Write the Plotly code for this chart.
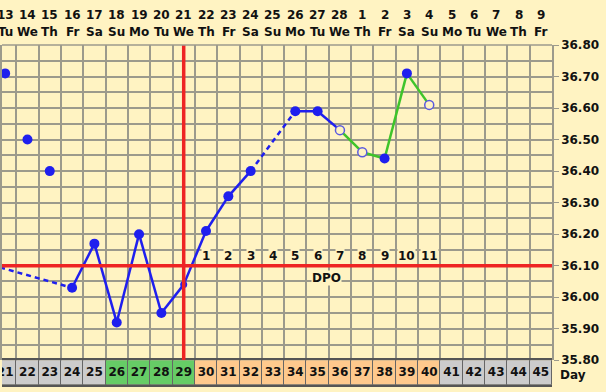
import plotly.graph_objects as go

# ---- data ----
cycle_days = list(range(20, 41))
temps = [36.11, 36.71, 36.50, 36.40, 36.03, 36.17, 35.92, 36.20, 35.95, 36.04,
         36.21, 36.32, 36.40, None, 36.59, 36.59, 36.53, 36.46, 36.44, 36.71, 36.61]
discarded_days = [21, 22, 23]
open_days = [36, 37, 40]
small_days = [29]
green_from = 36
coverline = 36.10
ovulation_day = 29

row_days = list(range(21, 46))
dates = ["13", "14", "15", "16", "17", "18", "19", "20", "21", "22", "23", "24", "25",
         "26", "27", "28", "1", "2", "3", "4", "5", "6", "7", "8", "9"]
weekdays = ["Tu", "We", "Th", "Fr", "Sa", "Su", "Mo", "Tu", "We", "Th", "Fr", "Sa", "Su",
            "Mo", "Tu", "We", "Th", "Fr", "Sa", "Su", "Mo", "Tu", "We", "Th", "Fr"]
phase = ["gray"] * 5 + ["green"] * 4 + ["orange"] * 11 + ["gray"] * 5
dpo_days = list(range(30, 41))
dpo_labels = [str(i) for i in range(1, 12)]
y_ticks = [round(35.8 + 0.1 * i, 2) for i in range(11)]

# ---- styles ----
BG = "#fff3c2"
GRID = "#9c9a8c"
BLUE = "#1f1fee"
OPEN = "#5a5ae0"
GREEN = "#3fc42a"
RED = "#ee2424"
PHASE_COL = {"gray": "#cccccc", "green": "#66cc66", "orange": "#fec98d"}
FONT = dict(family="DejaVu Sans", size=12, color="#111111", weight="bold")

T = dict(zip(cycle_days, temps))

fig = go.Figure()


def seg(ds, color, dash="solid"):
    fig.add_trace(go.Scatter(x=ds, y=[T[d] for d in ds], mode="lines",
                             line=dict(color=color, width=2.5, dash=dash),
                             hoverinfo="skip", showlegend=False))


valid = [d for d in cycle_days if T[d] is not None and d not in discarded_days]
for a, b in zip(valid[:-1], valid[1:]):
    color = GREEN if a >= green_from else BLUE
    dash = "5px,4px" if b - a > 1 else "solid"
    seg([a, b], color, dash)

filled = [d for d in cycle_days if T[d] is not None and d not in open_days and d not in small_days]
fig.add_trace(go.Scatter(x=filled, y=[T[d] for d in filled], mode="markers",
                         marker=dict(color=BLUE, size=10, line=dict(width=0)),
                         hoverinfo="skip", showlegend=False))
fig.add_trace(go.Scatter(x=small_days, y=[T[d] for d in small_days], mode="markers",
                         marker=dict(color=BLUE, size=7, line=dict(width=0)),
                         hoverinfo="skip", showlegend=False))
fig.add_trace(go.Scatter(x=open_days, y=[T[d] for d in open_days], mode="markers",
                         marker=dict(color=BG, size=9, line=dict(color=OPEN, width=1.5)),
                         hoverinfo="skip", showlegend=False))

fig.add_trace(go.Bar(x=row_days, y=[1] * len(row_days), width=1, xaxis="x", yaxis="y2",
                     marker=dict(color=[PHASE_COL[p] for p in phase],
                                 line=dict(color="#666666", width=1)),
                     hoverinfo="skip", showlegend=False))
fig.add_trace(go.Scatter(x=row_days, y=[0.5] * len(row_days), mode="text",
                         text=[str(d) for d in row_days], xaxis="x", yaxis="y2",
                         textfont=FONT, hoverinfo="skip", showlegend=False))

shapes = [
    dict(type="line", xref="x", yref="y", x0=ovulation_day, x1=ovulation_day, y0=35.8, y1=36.8,
         line=dict(color=RED, width=3.5), layer="above"),
    dict(type="line", xref="paper", yref="y", x0=0, x1=1, y0=coverline, y1=coverline,
         line=dict(color=RED, width=3.5), layer="above"),
    dict(type="line", xref="paper", yref="paper", x0=0, x1=1, y0=1, y1=1,
         line=dict(color=GRID, width=1.5)),
]

annotations = []
for d, dt, wd in zip(row_days, dates, weekdays):
    annotations.append(dict(x=d, y=1.087, xref="x", yref="paper", text=dt, showarrow=False,
                            font=FONT, yanchor="middle"))
    annotations.append(dict(x=d, y=1.038, xref="x", yref="paper", text=wd, showarrow=False,
                            font=FONT, yanchor="middle"))
for d, t in zip(dpo_days, dpo_labels):
    annotations.append(dict(x=d, y=coverline, xref="x", yref="y", text=t, showarrow=False,
                            font=FONT, yshift=10, bgcolor=BG, borderpad=0))
annotations.append(dict(x=35.4, y=coverline, xref="x", yref="y", text="DPO", showarrow=False,
                        font=FONT, yshift=-12, bgcolor=BG, borderpad=0))
annotations.append(dict(x=1, y=0.029, xref="paper", yref="paper", text="Day", showarrow=False,
                        font=FONT, xanchor="left", xshift=6, yanchor="middle"))

fig.update_layout(
    width=606, height=392,
    margin=dict(l=0, r=54, t=45, b=3),
    paper_bgcolor=BG, plot_bgcolor=BG,
    shapes=shapes, annotations=annotations,
    bargap=0,
    xaxis=dict(range=[20.86, 45.5], tick0=0.5, dtick=1, showgrid=True, gridcolor=GRID,
               gridwidth=1.5, showticklabels=False, ticks="", zeroline=False,
               anchor="y2", showline=True, linecolor="#555555", linewidth=1.5, mirror=True),
    yaxis=dict(domain=[0.0727, 1], range=[35.8, 36.8], side="right", anchor="x",
               tickvals=y_ticks, ticktext=[f"{v:.2f}" for v in y_ticks],
               ticks="outside", ticklen=5, tickcolor=GRID, tickfont=FONT,
               showgrid=True, gridcolor=GRID, gridwidth=1.5, zeroline=False,
               minor=dict(dtick=0.05, tick0=35.8, showgrid=True, gridcolor=GRID, gridwidth=1.5),
               showline=True, linecolor=GRID, linewidth=1.5, mirror=True),
    yaxis2=dict(domain=[0, 0.0727], range=[0, 1], anchor="x", showgrid=False,
                showticklabels=False, ticks="", zeroline=False, fixedrange=True),
)

fig.write_html("out.html")
